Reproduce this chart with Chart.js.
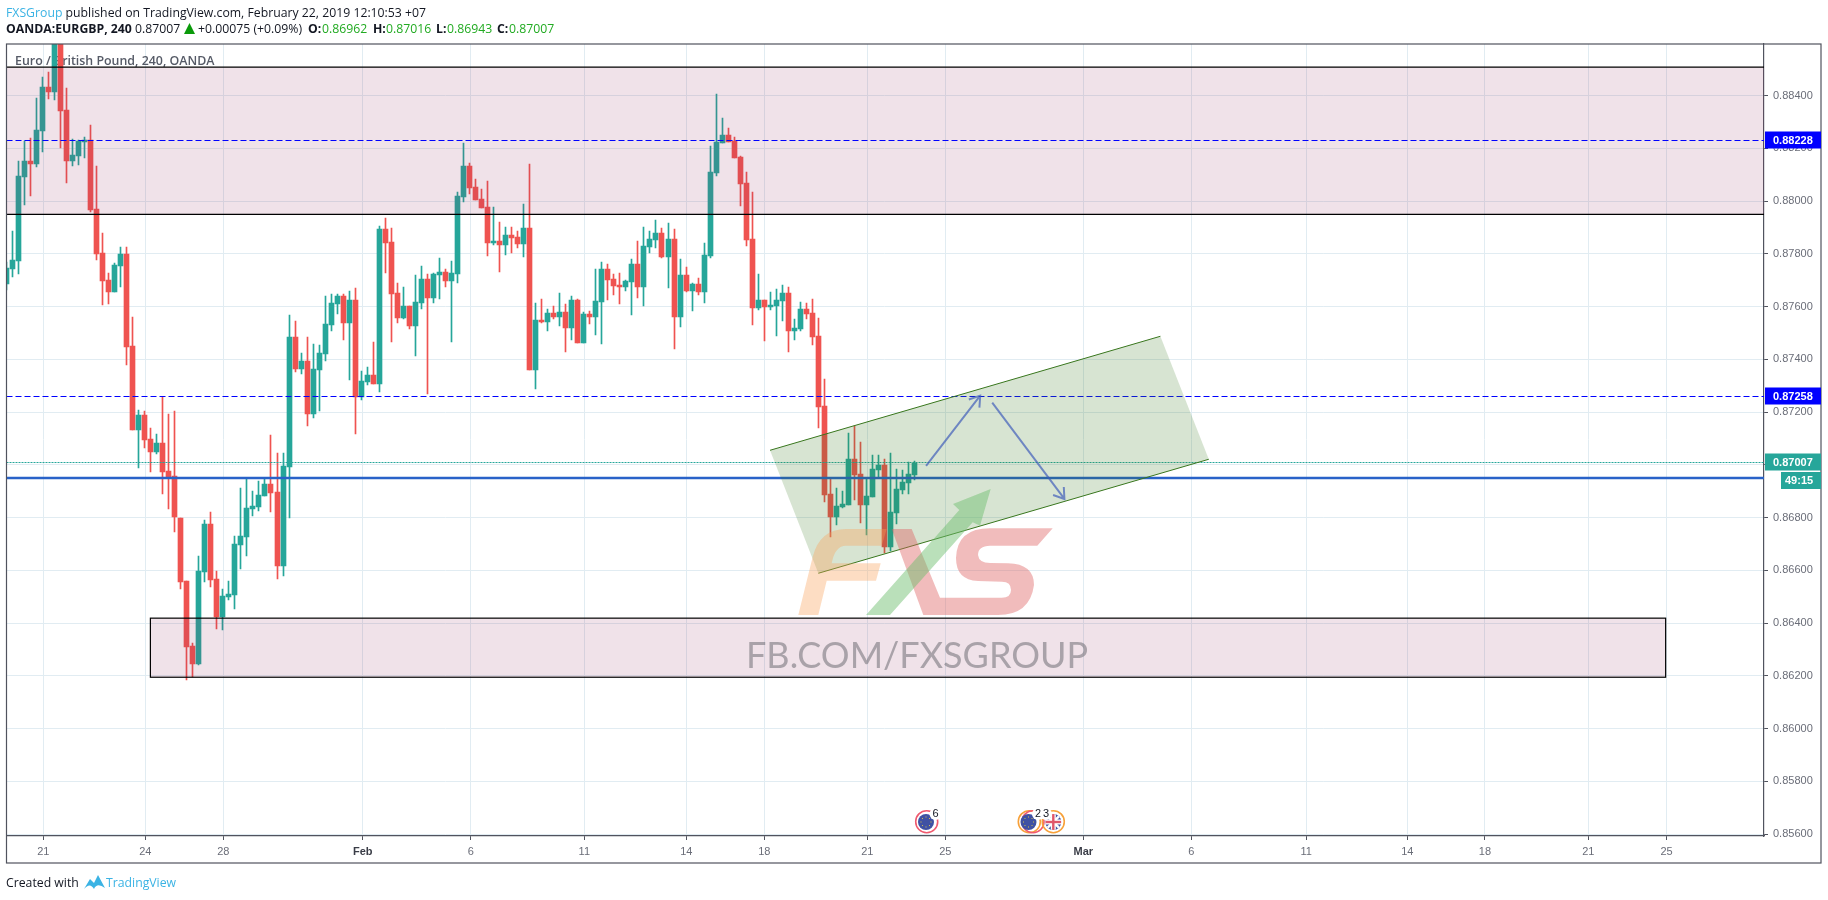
<!DOCTYPE html>
<html>
<head>
<meta charset="utf-8">
<title>EURGBP</title>
<script src="https://cdn.jsdelivr.net/npm/chart.js@4/dist/chart.umd.min.js"></script>
<style>
  html, body { margin: 0; padding: 0; background: #fff; width: 1828px; height: 900px; overflow: hidden; }
  canvas { position: absolute; left: 0; top: 0; }
  .t { position: absolute; white-space: nowrap; font: 12.25px "Open Sans", sans-serif; color: #131722; line-height: 16px; }
  .b { font-weight: 700; }
  .g { color: #22ab22; }
</style>
</head>
<body>
<canvas id="chart" width="1828" height="900"></canvas>

<div class="t" style="left:6px;top:5px"><span style="color:#3bb3e4">FXSGroup</span> published on TradingView.com, February 22, 2019 12:10:53 +07</div>
<div class="t b" style="left:6px;top:21px">OANDA:EURGBP, 240</div>
<div class="t" style="left:135px;top:21px">0.87007</div>
<svg style="position:absolute;left:184px;top:23px" width="12" height="12"><polygon points="0,11 11,11 5.5,0" fill="#0a9a0a"/></svg>
<div class="t" style="left:198px;top:21px">+0.00075 (+0.09%)</div>
<div class="t b" style="left:308px;top:21px">O:</div><div class="t g" style="left:322px;top:21px">0.86962</div>
<div class="t b" style="left:373px;top:21px">H:</div><div class="t g" style="left:386px;top:21px">0.87016</div>
<div class="t b" style="left:436px;top:21px">L:</div><div class="t g" style="left:447px;top:21px">0.86943</div>
<div class="t b" style="left:497px;top:21px">C:</div><div class="t g" style="left:509px;top:21px">0.87007</div>

<div class="t" style="left:6px;top:875px">Created with</div>
<svg style="position:absolute;left:83px;top:874px" width="23" height="16"><path d="M1 15 L7 5 L11 9 L15 1 L22 14 Q14 8 11 15 Q7 8 1 15 Z" fill="#3bb3e4"/></svg>
<div class="t" style="left:106px;top:875px;color:#3bb3e4">TradingView</div>

<script>

// 240 min candles, one value per bar
const opens = [
  0.87686,0.87743,0.87773,0.88092,0.88153,0.88141,0.88266,0.88433,0.88414,0.88620,
  0.88346,0.88153,0.88172,0.88225,0.88232,0.87971,0.87804,0.87701,0.87656,0.87754,
  0.87800,0.87451,0.87133,0.87190,0.87099,0.87049,0.87083,0.86977,0.86958,0.86799,
  0.86560,0.86314,0.86245,0.86594,0.86776,0.86568,0.86424,0.86499,0.86507,0.86697,
  0.86727,0.86833,0.86841,0.86882,0.86928,0.86898,0.86617,0.86992,0.87485,0.87364,
  0.87394,0.87193,0.87360,0.87421,0.87531,0.87610,0.87641,0.87538,0.87626,0.87258,
  0.87315,0.87341,0.87307,0.87895,0.87845,0.87652,0.87557,0.87603,0.87527,0.87614,
  0.87705,0.87633,0.87720,0.87732,0.87698,0.87724,0.88016,0.88134,0.88054,0.88008,
  0.87978,0.87842,0.87849,0.87834,0.87872,0.87864,0.87838,0.87899,0.87360,0.87550,
  0.87542,0.87576,0.87561,0.87580,0.87519,0.87626,0.87462,0.87572,0.87561,0.87618,
  0.87743,0.87705,0.87682,0.87675,0.87694,0.87762,0.87675,0.87826,0.87853,0.87880,
  0.87789,0.87857,0.87561,0.87720,0.87660,0.87686,0.87656,0.87792,0.88107,0.88221,
  0.88251,0.88228,0.88168,0.88069,0.87857,0.87595,0.87626,0.87599,0.87603,0.87622,
  0.87652,0.87508,0.87516,0.87591,0.87576,0.87489,0.87224,0.86890,0.86803,0.86841,
  0.86848,0.87023,0.86966,0.86848,0.86879,0.86981,0.87000,0.86689,0.86818,0.86905,
  0.86932,0.86962
];
const highs = [
  0.87770,0.87887,0.88153,0.88228,0.88240,0.88391,0.88471,0.88490,0.88650,0.88650,
  0.88429,0.88236,0.88232,0.88243,0.88289,0.88134,0.87880,0.87728,0.87766,0.87826,
  0.87826,0.87561,0.87209,0.87205,0.87140,0.87118,0.87258,0.87193,0.87205,0.86799,
  0.86560,0.86325,0.86655,0.86791,0.86822,0.86598,0.86530,0.86560,0.86731,0.86913,
  0.86951,0.86901,0.86939,0.86951,0.87114,0.87045,0.87045,0.87569,0.87546,0.87425,
  0.87485,0.87459,0.87455,0.87641,0.87648,0.87648,0.87648,0.87660,0.87671,0.87356,
  0.87371,0.87466,0.87906,0.87936,0.87899,0.87690,0.87675,0.87603,0.87720,0.87754,
  0.87724,0.87728,0.87785,0.87743,0.87773,0.88035,0.88221,0.88145,0.88084,0.88046,
  0.88077,0.87978,0.87921,0.87902,0.87902,0.87887,0.87990,0.88141,0.87614,0.87629,
  0.87591,0.87603,0.87652,0.87610,0.87641,0.87629,0.87580,0.87584,0.87743,0.87770,
  0.87762,0.87724,0.87728,0.87701,0.87781,0.87849,0.87902,0.87887,0.87929,0.87899,
  0.87918,0.87895,0.87781,0.87751,0.87690,0.87709,0.87842,0.88209,0.88407,0.88316,
  0.88278,0.88243,0.88172,0.88111,0.88035,0.87724,0.87626,0.87656,0.87667,0.87682,
  0.87675,0.87553,0.87618,0.87614,0.87629,0.87557,0.87326,0.86947,0.86913,0.86901,
  0.87121,0.87148,0.87087,0.86951,0.87038,0.87038,0.87023,0.87045,0.86985,0.86981,
  0.87011,0.87016
];
const lows = [
  0.87664,0.87713,0.87724,0.87986,0.88020,0.88130,0.88187,0.88388,0.88384,0.88202,
  0.88069,0.88134,0.88137,0.88164,0.87959,0.87777,0.87607,0.87610,0.87656,0.87675,
  0.87379,0.87133,0.86989,0.87064,0.86973,0.87042,0.86890,0.86833,0.86746,0.86530,
  0.86185,0.86196,0.86242,0.86556,0.86537,0.86378,0.86374,0.86488,0.86454,0.86606,
  0.86655,0.86807,0.86826,0.86882,0.86822,0.86568,0.86579,0.86799,0.87353,0.87345,
  0.87148,0.87178,0.87205,0.87394,0.87508,0.87572,0.87474,0.87322,0.87118,0.87246,
  0.87303,0.87307,0.87277,0.87728,0.87466,0.87538,0.87553,0.87516,0.87413,0.87591,
  0.87269,0.87614,0.87629,0.87675,0.87466,0.87690,0.87997,0.88027,0.88005,0.87974,
  0.87792,0.87834,0.87732,0.87796,0.87804,0.87823,0.87789,0.87360,0.87288,0.87538,
  0.87508,0.87553,0.87527,0.87428,0.87474,0.87462,0.87462,0.87535,0.87493,0.87459,
  0.87626,0.87645,0.87610,0.87660,0.87569,0.87633,0.87603,0.87804,0.87823,0.87785,
  0.87671,0.87440,0.87523,0.87656,0.87584,0.87645,0.87614,0.87785,0.88096,0.88221,
  0.88225,0.88164,0.87982,0.87830,0.87531,0.87588,0.87470,0.87588,0.87489,0.87546,
  0.87428,0.87474,0.87508,0.87553,0.87455,0.87140,0.86860,0.86727,0.86772,0.86837,
  0.86848,0.86867,0.86780,0.86735,0.86879,0.86954,0.86666,0.86674,0.86776,0.86890,
  0.86890,0.86943
];
const closes = [
  0.87747,0.87777,0.88096,0.88153,0.88141,0.88270,0.88433,0.88414,0.88620,0.88342,
  0.88153,0.88175,0.88228,0.88232,0.87967,0.87800,0.87698,0.87656,0.87758,0.87800,
  0.87447,0.87133,0.87190,0.87095,0.87049,0.87083,0.86973,0.86954,0.86803,0.86556,
  0.86310,0.86245,0.86598,0.86776,0.86564,0.86424,0.86503,0.86511,0.86700,0.86731,
  0.86837,0.86845,0.86886,0.86928,0.86894,0.86617,0.86996,0.87485,0.87364,0.87394,
  0.87193,0.87364,0.87425,0.87535,0.87614,0.87641,0.87538,0.87626,0.87258,0.87318,
  0.87341,0.87307,0.87895,0.87842,0.87648,0.87557,0.87603,0.87527,0.87618,0.87705,
  0.87633,0.87724,0.87732,0.87698,0.87728,0.88020,0.88134,0.88050,0.88005,0.87974,
  0.87842,0.87849,0.87834,0.87872,0.87861,0.87838,0.87899,0.87360,0.87550,0.87542,
  0.87576,0.87561,0.87580,0.87519,0.87626,0.87462,0.87572,0.87561,0.87622,0.87743,
  0.87701,0.87679,0.87675,0.87698,0.87762,0.87675,0.87830,0.87857,0.87880,0.87789,
  0.87857,0.87561,0.87720,0.87660,0.87686,0.87656,0.87796,0.88111,0.88225,0.88251,
  0.88225,0.88164,0.88065,0.87853,0.87595,0.87626,0.87599,0.87607,0.87626,0.87652,
  0.87508,0.87519,0.87591,0.87572,0.87485,0.87220,0.86886,0.86803,0.86845,0.86852,
  0.87023,0.86962,0.86848,0.86882,0.86985,0.87000,0.86689,0.86822,0.86909,0.86935,
  0.86966,0.87007
];

// axis
const priceTicks = [0.856,0.858,0.860,0.862,0.864,0.866,0.868,0.870,0.872,0.874,0.876,0.878,0.880,0.882,0.884];
const timeTickLabels = ['21','24','28','Feb','6','11','14','18','21','25','Mar','6','11','14','18','21','25'];
const timeTickBars = [6.15,23.1,36.07,59.25,77.2,96.09,113.05,126,143.14,156.1,179.05,197,216.1,232.9,245.8,263,276];

// drawings, [bar, price]
const zoneTop = [0.88508, 0.87950];
const zoneBottom = [0.86419, 0.86195];
const zoneBottomBars = [23.95, 275.85];
const dashedLevels = [0.88228, 0.87258];
const lastPrice = 0.87007;
const solidLevel = 0.86952;
const channel = [[126.96,0.870555],[191.85,0.874878],[199.9,0.870214],[134.99,0.865892]];
const arrowUp = [[152.9,0.86996],[161.9,0.872626]];
const arrowDown = [[163.9,0.87236],[175.9,0.868709]];

const UP = '#26a69a', DOWN = '#ef5350', GRID = '#e1ecf2', AXIS = '#50535e';
const bars = opens.map((o, i) => i);
const colors = opens.map((o, i) => closes[i] >= o ? UP : DOWN);

// watermark logo, canvas pixels. 4 numbers = quadratic curve (control, end)
const logoF = [[798.3,615],[812.7,556.7],[820,529,846,529],[886.7,529],[881.7,545.7],[846,545.7],[835,545.7,831.7,563.3],[880.7,563.3],[876,580.7],[826.7,580.7],[818.3,615]];
const logoXS = [[891.7,529],[911.7,529],[940,597.7],[1001.7,597.7],[1011,597.7,1011,590],[1011,581.7,1002,581.7],[978,581],[956,580,956,558],[957,528.3,990,528.3],[1052.7,528.3],[1037.3,545.7],[990,545.7],[978,546,978,555],[979,563,990,563],[1008,563.3],[1034,564,1034,585],[1030,615,998,615],[923.3,615]];
const logoArrow = [[866,615],[890,615],[972.7,522.3],[980,525.7],[990.7,489],[953,504],[959.3,510]];

const fillPoly = (ctx, pts, color) => {
  ctx.beginPath();
  pts.forEach((p, i) => {
    if (i === 0) ctx.moveTo(p[0], p[1]);
    else if (p.length === 4) ctx.quadraticCurveTo(p[0], p[1], p[2], p[3]);
    else ctx.lineTo(p[0], p[1]);
  });
  ctx.closePath();
  ctx.fillStyle = color;
  ctx.fill();
};

const drawArrow = (ctx, x, y, seg) => {
  const x1 = x.getPixelForValue(seg[0][0]), y1 = y.getPixelForValue(seg[0][1]);
  const x2 = x.getPixelForValue(seg[1][0]), y2 = y.getPixelForValue(seg[1][1]);
  const a = Math.atan2(y2 - y1, x2 - x1);
  ctx.strokeStyle = 'rgba(60,90,185,0.68)';
  ctx.lineWidth = 2;
  ctx.beginPath();
  ctx.moveTo(x1, y1);
  ctx.lineTo(x2, y2);
  ctx.moveTo(x2 + 12 * Math.cos(a + 2.55), y2 + 12 * Math.sin(a + 2.55));
  ctx.lineTo(x2, y2);
  ctx.lineTo(x2 + 12 * Math.cos(a - 2.55), y2 + 12 * Math.sin(a - 2.55));
  ctx.stroke();
};

const priceTag = (ctx, y, color, text) => {
  ctx.fillStyle = color;
  ctx.fillRect(1765, y - 9, 56, 17);
  ctx.fillStyle = '#fff';
  ctx.font = 'bold 11px "Liberation Sans"';
  ctx.textAlign = 'left';
  ctx.textBaseline = 'middle';
  ctx.fillText(text, 1773, y);
};

const eventIcon = (ctx, cx, cy, ring) => {
  ctx.strokeStyle = ring;
  ctx.lineWidth = 1.6;
  ctx.beginPath();
  ctx.arc(cx, cy, 11, 0, Math.PI * 2);
  ctx.stroke();
};

const euDisc = (ctx, cx, cy) => {
  ctx.fillStyle = '#3f51a3';
  ctx.beginPath();
  ctx.arc(cx, cy, 8, 0, Math.PI * 2);
  ctx.fill();
  ctx.fillStyle = '#d9c24a';
  for (let k = 0; k < 8; k++) {
    ctx.fillRect(cx + 5 * Math.cos(k * Math.PI / 4) - 0.5, cy + 5 * Math.sin(k * Math.PI / 4) - 0.5, 1, 1);
  }
};

const eventNumber = (ctx, cx, cy, text) => {
  ctx.fillStyle = '#fff';
  ctx.beginPath();
  ctx.arc(cx, cy, 6, 0, Math.PI * 2);
  ctx.fill();
  ctx.fillStyle = '#131722';
  ctx.font = '11px "Liberation Sans"';
  ctx.textAlign = 'center';
  ctx.textBaseline = 'middle';
  ctx.fillText(text, cx, cy);
};

const ukDisc = (ctx, cx, cy) => {
  ctx.save();
  ctx.beginPath();
  ctx.arc(cx, cy, 8, 0, Math.PI * 2);
  ctx.clip();
  ctx.fillStyle = '#3f51a3';
  ctx.fillRect(cx - 8, cy - 8, 16, 16);
  ctx.strokeStyle = '#fff';
  ctx.lineWidth = 2.5;
  ctx.beginPath();
  ctx.moveTo(cx - 8, cy - 8); ctx.lineTo(cx + 8, cy + 8);
  ctx.moveTo(cx + 8, cy - 8); ctx.lineTo(cx - 8, cy + 8);
  ctx.stroke();
  ctx.fillStyle = '#fff';
  ctx.fillRect(cx - 2.5, cy - 8, 5, 16);
  ctx.fillRect(cx - 8, cy - 2.5, 16, 5);
  ctx.fillStyle = '#e0566b';
  ctx.fillRect(cx - 1.2, cy - 8, 2.4, 16);
  ctx.fillRect(cx - 8, cy - 1.2, 16, 2.4);
  ctx.restore();
};

const drawings = {
  id: 'drawings',
  // keep candles on whole pixels so wicks stay sharp
  afterDatasetsUpdate(chart) {
    chart.data.datasets.forEach((d, n) => {
      chart.getDatasetMeta(n).data.forEach(el => {
        el.x = Math.floor(el.x) + 0.5;
        el.y = Math.round(el.y);
        el.base = Math.round(el.base);
      });
    });
  },
  beforeDatasetsDraw(chart) {
    const ctx = chart.ctx;
    ctx.save();
    ctx.font = '600 12.4px "Open Sans"';
    ctx.fillStyle = '#555a66';
    ctx.textAlign = 'left';
    ctx.textBaseline = 'middle';
    ctx.fillText('Euro / British Pound, 240, OANDA', 15, 61);
    ctx.restore();
  },
  afterDatasetsDraw(chart) {
    const { ctx, chartArea: area, scales: { x, y } } = chart;
    const px = p => [x.getPixelForValue(p[0]), y.getPixelForValue(p[1])];

    ctx.save();
    ctx.beginPath();
    ctx.rect(area.left, area.top, area.right - area.left, area.bottom - area.top);
    ctx.clip();

    // zones
    const zy1 = y.getPixelForValue(zoneTop[0]), zy2 = y.getPixelForValue(zoneTop[1]);
    ctx.fillStyle = 'rgba(150,50,100,0.14)';
    ctx.fillRect(area.left, zy1, area.right - area.left, zy2 - zy1);
    ctx.strokeStyle = '#000';
    ctx.lineWidth = 1.2;
    ctx.beginPath();
    ctx.moveTo(area.left, zy1); ctx.lineTo(area.right, zy1);
    ctx.moveTo(area.left, zy2); ctx.lineTo(area.right, zy2);
    ctx.stroke();

    const bx1 = x.getPixelForValue(zoneBottomBars[0]), bx2 = x.getPixelForValue(zoneBottomBars[1]);
    const by1 = y.getPixelForValue(zoneBottom[0]), by2 = y.getPixelForValue(zoneBottom[1]);
    ctx.fillRect(bx1, by1, bx2 - bx1, by2 - by1);
    ctx.strokeRect(bx1, by1, bx2 - bx1, by2 - by1);

    // levels
    ctx.strokeStyle = '#0000ff';
    ctx.lineWidth = 1;
    ctx.setLineDash([6, 3]);
    dashedLevels.forEach(v => {
      const py = Math.round(y.getPixelForValue(v)) - 0.5;
      ctx.beginPath(); ctx.moveTo(area.left, py); ctx.lineTo(area.right, py); ctx.stroke();
    });
    ctx.strokeStyle = UP;
    ctx.setLineDash([2, 1]);
    const ly = Math.round(y.getPixelForValue(lastPrice)) - 0.5;
    ctx.beginPath(); ctx.moveTo(area.left, ly); ctx.lineTo(area.right, ly); ctx.stroke();
    ctx.setLineDash([]);
    const sy = Math.round(y.getPixelForValue(solidLevel));
    ctx.fillStyle = 'rgba(41,98,200,0.25)';
    ctx.fillRect(area.left, sy - 2, area.right - area.left, 4);
    ctx.fillStyle = '#2962c8';
    ctx.fillRect(area.left, sy - 1, area.right - area.left, 2);

    // channel
    const c = channel.map(px);
    fillPoly(ctx, c, 'rgba(56,118,29,0.2)');
    ctx.strokeStyle = 'rgb(56,118,29)';
    ctx.lineWidth = 1;
    ctx.beginPath();
    ctx.moveTo(c[0][0], c[0][1]); ctx.lineTo(c[1][0], c[1][1]);
    ctx.moveTo(c[3][0], c[3][1]); ctx.lineTo(c[2][0], c[2][1]);
    ctx.stroke();

    // watermark
    fillPoly(ctx, logoF, 'rgba(250,160,90,0.36)');
    fillPoly(ctx, logoXS, 'rgba(222,95,95,0.42)');
    fillPoly(ctx, logoArrow, 'rgba(110,190,110,0.48)');
    ctx.font = '36px Lato';
    ctx.fillStyle = 'rgba(100,100,105,0.5)';
    ctx.textAlign = 'left';
    ctx.textBaseline = 'alphabetic';
    ctx.fillText('FB.COM/FXSGROUP', 746, 668);

    drawArrow(ctx, x, y, arrowUp);
    drawArrow(ctx, x, y, arrowDown);

    // events on the time axis
    eventIcon(ctx, 926.7, 821.7, '#ef5a6f');
    euDisc(ctx, 926, 822);
    eventNumber(ctx, 935.5, 814, '6');
    eventIcon(ctx, 1029.3, 821.7, '#f7a13a');
    eventIcon(ctx, 1033, 821.7, '#ef5a6f');
    euDisc(ctx, 1028.5, 822);
    eventIcon(ctx, 1053.3, 821.7, '#f7a13a');
    ukDisc(ctx, 1053.3, 822);
    eventNumber(ctx, 1038, 814, '2');
    eventNumber(ctx, 1046, 814, '3');
    ctx.restore();

    // outer frame
    ctx.save();
    ctx.strokeStyle = AXIS;
    ctx.lineWidth = 1.2;
    ctx.strokeRect(area.left, area.top, 1821 - area.left, 863 - area.top);
    ctx.restore();

    // price tags
    ctx.save();
    dashedLevels.forEach(v => priceTag(ctx, Math.round(y.getPixelForValue(v)) - 0.5, '#0000ff', v.toFixed(5)));
    priceTag(ctx, Math.round(y.getPixelForValue(lastPrice)) - 0.5, UP, lastPrice.toFixed(5));
    ctx.fillStyle = UP;
    ctx.fillRect(1781, 472, 40, 17);
    ctx.fillStyle = '#fff';
    ctx.font = 'bold 11px "Liberation Sans"';
    ctx.textAlign = 'left';
    ctx.textBaseline = 'middle';
    ctx.fillText('49:15', 1785, 481);
    ctx.restore();
  }
};

new Chart(document.getElementById('chart').getContext('2d'), {
  type: 'bar',
  data: {
    datasets: [
      {
        label: 'wick',
        data: bars.map(i => ({ x: i, y: [lows[i], highs[i]] })),
        backgroundColor: colors,
        barThickness: 1,
        grouped: false,
        order: 2
      },
      {
        label: 'body',
        data: bars.map(i => ({ x: i, y: [opens[i], closes[i]] })),
        backgroundColor: colors,
        barThickness: 5,
        grouped: false,
        order: 1
      }
    ]
  },
  options: {
    responsive: false,
    animation: false,
    devicePixelRatio: 1,
    layout: { padding: { left: 6.5, right: 7, top: 44, bottom: 37 } },
    plugins: { legend: { display: false }, tooltip: { enabled: false } },
    scales: {
      x: {
        type: 'linear',
        min: 0.03,
        max: 292.2,
        offset: false,
        grid: { color: GRID, tickColor: AXIS, tickLength: 4, offset: false },
        border: { color: AXIS, width: 1.2 },
        afterBuildTicks: s => { s.ticks = timeTickBars.map(v => ({ value: v })); },
        afterFit: s => { s.height = 27; },
        ticks: {
          autoSkip: false,
          maxRotation: 0,
          padding: 5,
          callback: (v, i) => timeTickLabels[i],
          font: c => ({ family: '"Liberation Sans"', size: 11, weight: /[a-z]/.test(timeTickLabels[c.index]) ? 'bold' : 'normal' }),
          color: c => /[a-z]/.test(timeTickLabels[c.index]) ? '#3a3d47' : '#6a6d78'
        }
      },
      y: {
        type: 'linear',
        position: 'right',
        min: 0.85593,
        max: 0.88596,
        grid: { color: GRID, tickColor: AXIS, tickLength: 4 },
        border: { color: AXIS, width: 1.2 },
        afterBuildTicks: s => { s.ticks = priceTicks.map(v => ({ value: v })); },
        afterFit: s => { s.width = 57; },
        ticks: {
          padding: 5,
          callback: v => v.toFixed(5),
          font: { family: '"Liberation Sans"', size: 11 },
          color: '#6a6d78'
        }
      }
    }
  },
  plugins: [drawings]
});

</script>
</body>
</html>
